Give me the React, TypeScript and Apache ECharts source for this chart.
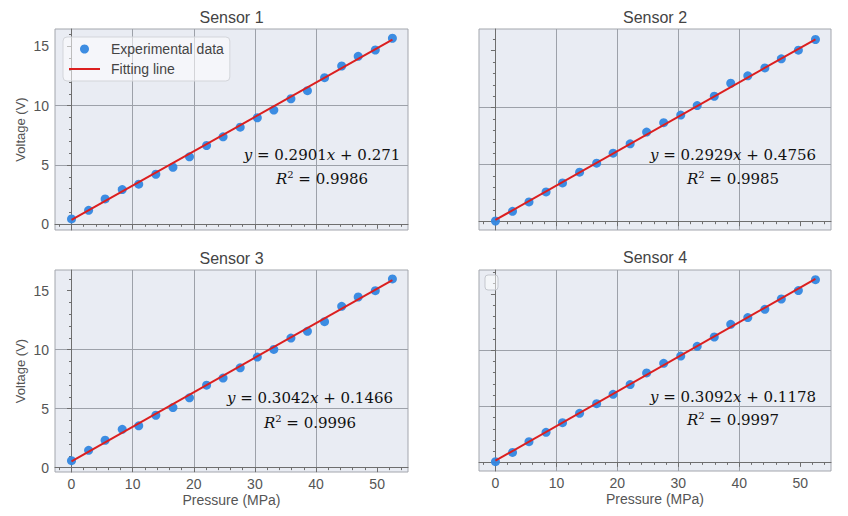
import React, { useEffect, useRef } from 'react';
import * as echarts from 'echarts';

// ---- data ----
const pressure = [0, 2.8, 5.5, 8.3, 11.0, 13.8, 16.6, 19.3, 22.1, 24.8, 27.6, 30.4, 33.1, 35.9, 38.6, 41.4, 44.2, 46.9, 49.7, 52.5];
const voltage1 = [0.45, 1.18, 2.14, 2.93, 3.38, 4.22, 4.81, 5.69, 6.64, 7.37, 8.19, 8.98, 9.63, 10.58, 11.26, 12.36, 13.34, 14.16, 14.69, 15.68];
const voltage2 = [0.06, 0.91, 1.73, 2.61, 3.40, 4.34, 5.13, 6.01, 6.83, 7.86, 8.68, 9.35, 10.18, 11.0, 12.14, 12.79, 13.49, 14.28, 15.04, 15.98];
const voltage3 = [0.59, 1.47, 2.32, 3.25, 3.54, 4.44, 5.09, 5.92, 6.99, 7.59, 8.46, 9.37, 10.02, 10.98, 11.55, 12.37, 13.67, 14.46, 15.0, 15.99];
const voltage4 = [0.06, 0.89, 1.85, 2.68, 3.54, 4.38, 5.24, 6.07, 6.94, 7.98, 8.84, 9.49, 10.36, 11.19, 12.32, 12.92, 13.66, 14.58, 15.33, 16.31];
const voltages = [voltage1, voltage2, voltage3, voltage4];

const fitX = [0, 52.5];
const fitStart = [0.37, 0.15, 0.54, 0.15];
const fitEnd = [15.56, 16.0, 15.9, 16.37];

const titles = ['Sensor 1', 'Sensor 2', 'Sensor 3', 'Sensor 4'];
const slopes = ['0.2901', '0.2929', '0.3042', '0.3092'];
const intercepts = ['0.271', '0.4756', '0.1466', '0.1178'];
const rSquared = ['0.9986', '0.9985', '0.9996', '0.9997'];

const xTicks = [0, 10, 20, 30, 40, 50];
const xMinorTicks = [-2, 2, 4, 6, 8, 12, 14, 16, 18, 22, 24, 26, 28, 32, 34, 36, 38, 42, 44, 46, 48, 52, 54];
const yTicks = [0, 5, 10, 15];
const yMinorTicks = [1, 2, 3, 4, 6, 7, 8, 9, 11, 12, 13, 14, 16, 17];
const xRange = [-2.7, 55.05];
const yMin = [-0.48, -0.73, -0.37, -0.77];
const yMax = [16.46, 16.9, 16.75, 17.17];

const xName = 'Pressure (MPa)';
const yName = 'Voltage (V)';
const legendNames = ['Experimental data', 'Fitting line'];

// ---- layout ----
const grids = [
  { left: 55, top: 29, width: 353, height: 201 },
  { left: 479, top: 29, width: 352, height: 201 },
  { left: 55, top: 270, width: 353, height: 202 },
  { left: 479, top: 270, width: 352, height: 201 },
];
const titleTops = [9, 9, 250, 249];
const eqPos = [
  [322, 155, 179],
  [733, 155, 179],
  [310, 398, 423],
  [733, 397, 420],
];

const SANS = 'Liberation Sans, Arial, Helvetica, sans-serif';
const SERIF = 'DejaVu Serif, serif';
const AXIS_COLOR = '#6e6e6e';
const GRID_LINE = '#9da1a9';

export default function App() {
  const ref = useRef<HTMLDivElement>(null);

  useEffect(() => {
    document.body.style.margin = '0';
    if (!ref.current) return;
    const chart = echarts.init(ref.current, null, { renderer: 'svg' });

    const xAxes: any[] = [];
    const yAxes: any[] = [];
    const series: any[] = [];
    const graphics: any[] = [];

    grids.forEach((g, i) => {
      const isBottom = i >= 2;
      const isLeft = i % 2 === 0;
      xAxes.push({
        type: 'value',
        gridIndex: i,
        position: 'bottom',
        min: xRange[0],
        max: xRange[1],
        splitNumber: 5,
        name: isBottom ? xName : '',
        nameLocation: 'middle',
        nameGap: 21,
        nameTextStyle: { fontFamily: SANS, fontSize: 14, color: '#555' },
        axisLine: { show: true, lineStyle: { color: AXIS_COLOR, width: 1 } },
        axisTick: { show: true, length: 4.5, lineStyle: { color: AXIS_COLOR }, customValues: xTicks },
        axisLabel: { show: isBottom, customValues: xTicks, margin: 5, fontFamily: SANS, fontSize: 14, color: '#555' },
        splitLine: { show: true, showMinLine: false, showMaxLine: false, lineStyle: { color: GRID_LINE, width: 1 } },
      });
      xAxes.push({
        type: 'value',
        gridIndex: i,
        position: 'bottom',
        min: xRange[0],
        max: xRange[1],
        axisLine: { show: false },
        axisTick: { show: true, length: 2.5, lineStyle: { color: AXIS_COLOR }, customValues: xMinorTicks },
        axisLabel: { show: false },
        splitLine: { show: false },
      });
      const yMinorIn = yMinorTicks.filter((v) => v > yMin[i] && v < yMax[i]);
      yAxes.push({
        type: 'value',
        gridIndex: i,
        position: 'left',
        min: yMin[i],
        max: yMax[i],
        splitNumber: 3,
        name: isLeft ? yName : '',
        nameLocation: 'middle',
        nameGap: 28,
        nameTextStyle: { fontFamily: SANS, fontSize: 13, color: '#555' },
        axisLine: { show: true, lineStyle: { color: AXIS_COLOR, width: 1 } },
        axisTick: { show: true, length: 4.5, lineStyle: { color: AXIS_COLOR }, customValues: yTicks },
        axisLabel: { show: isLeft, customValues: yTicks, margin: 6, fontFamily: SANS, fontSize: 14, color: '#555' },
        splitLine: { show: true, showMinLine: false, showMaxLine: false, lineStyle: { color: GRID_LINE, width: 1 } },
      });
      yAxes.push({
        type: 'value',
        gridIndex: i,
        position: 'left',
        min: yMin[i],
        max: yMax[i],
        axisLine: { show: false },
        axisTick: { show: true, length: 2.5, lineStyle: { color: AXIS_COLOR }, customValues: yMinorIn },
        axisLabel: { show: false },
        splitLine: { show: false },
      });

      series.push({
        type: 'scatter',
        name: legendNames[0],
        xAxisIndex: 2 * i,
        yAxisIndex: 2 * i,
        data: pressure.map((p, j) => [p, voltages[i][j]]),
        symbol: 'circle',
        symbolSize: 9,
        itemStyle: { color: '#3387e0', opacity: 0.95 },
        z: 2,
      });
      series.push({
        type: 'line',
        name: legendNames[1],
        xAxisIndex: 2 * i,
        yAxisIndex: 2 * i,
        data: [
          [fitX[0], fitStart[i]],
          [fitX[1], fitEnd[i]],
        ],
        symbol: 'none',
        lineStyle: { color: '#dc1f1f', width: 2 },
        itemStyle: { color: '#dc1f1f' },
        z: 3,
      });

      const [cx, y1, y2] = eqPos[i];
      graphics.push({
        type: 'text',
        x: cx,
        y: y1,
        z: 10,
        style: {
          text: `{i|y} = ${slopes[i]}{i|x} + ${intercepts[i]}`,
          fontFamily: SERIF,
          fontSize: 15,
          fill: '#111',
          align: 'center',
          verticalAlign: 'middle',
          rich: {
            i: { fontFamily: SERIF, fontSize: 15, fontStyle: 'italic', fill: '#111' },
          },
        },
      });
      graphics.push({
        type: 'text',
        x: cx,
        y: y2,
        z: 10,
        style: {
          text: `{i|R}{s|2} = ${rSquared[i]}`,
          fontFamily: SERIF,
          fontSize: 15,
          lineHeight: 20,
          fill: '#111',
          align: 'center',
          verticalAlign: 'middle',
          rich: {
            i: { fontFamily: SERIF, fontSize: 15, fontStyle: 'italic', fill: '#111', lineHeight: 20 },
            s: { fontFamily: SERIF, fontSize: 10, fill: '#111', verticalAlign: 'top', lineHeight: 10 },
          },
        },
      });
    });

    // empty legend box in panel 4
    graphics.push({
      type: 'rect',
      x: 485,
      y: 275,
      z: 10,
      shape: { width: 13, height: 15, r: 3 },
      style: { fill: 'rgba(255,255,255,0.5)', stroke: '#c4c7ce', lineWidth: 1 },
    });

    const option: any = {
      animation: false,
      backgroundColor: '#ffffff',
      title: grids.map((g, i) => ({
        text: titles[i],
        left: g.left + g.width / 2,
        top: titleTops[i],
        textAlign: 'center',
        padding: 0,
        textStyle: { fontFamily: SANS, fontSize: 16, fontWeight: 'normal', color: '#444' },
      })),
      grid: grids.map((g) => ({
        ...g,
        show: true,
        backgroundColor: '#e9ecf3',
        borderColor: '#a3a6ad',
        borderWidth: 1,
        containLabel: false,
      })),
      legend: {
        data: [
          { name: legendNames[0] },
          { name: legendNames[1], itemStyle: { opacity: 0 } },
        ],
        orient: 'vertical',
        left: 63,
        top: 37,
        padding: [5, 6, 5, 5],
        itemWidth: 31,
        itemHeight: 9,
        itemGap: 6,
        backgroundColor: 'rgba(255,255,255,0.55)',
        borderColor: '#d3d5da',
        borderWidth: 1,
        borderRadius: 4,
        selectedMode: false,
        textStyle: { fontFamily: SANS, fontSize: 14, color: '#444', padding: [0, 0, 0, 6] },
      },
      xAxis: xAxes,
      yAxis: yAxes,
      series,
      graphic: graphics,
    };

    chart.setOption(option);
    return () => {
      chart.dispose();
    };
  }, []);

  return <div ref={ref} style={{ width: 848, height: 516 }} />;
}
